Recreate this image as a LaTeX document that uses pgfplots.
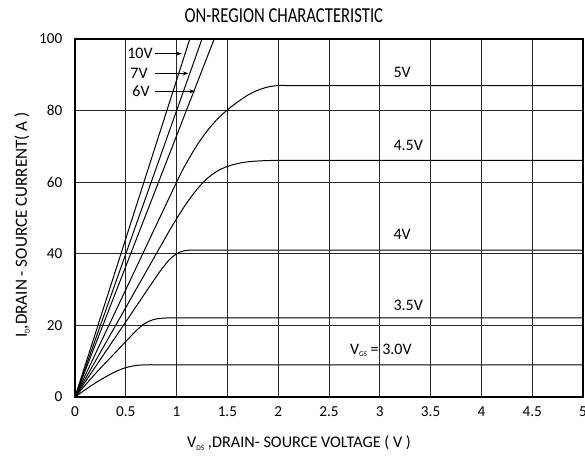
\documentclass[border=0pt]{standalone}
\usepackage{pgfplots}
\pgfplotsset{compat=1.18}
\usepackage{fontspec}
\setmainfont{Carlito}
\newfontfamily\titlefont[FakeStretch=0.78]{Carlito}
\usetikzlibrary{arrows.meta}

\newcommand{\lbl}{\fontsize{12}{14}\selectfont}
\newcommand{\sub}[1]{\raisebox{-0.15em}{\fontsize{5.5}{6}\selectfont #1}}

\pgfplotsset{
  curve/.style={black, line width=0.75pt, mark=none},
  bend/.style={curve, smooth, tension=0.5},
}

\begin{document}
\begin{tikzpicture}
\useasboundingbox (-56.25pt,-44.25pt) rectangle (382.5pt,297.75pt);
\begin{axis}[
  scale only axis,
  width=381pt, height=268.5pt,
  xmin=0, xmax=5, ymin=0, ymax=100,
  xtick={0,0.5,...,5},
  ytick={0,20,...,100},
  grid=major,
  major grid style={black!85, line width=0.7pt},
  major tick length=0pt,
  axis line style={black, line width=0.8pt},
  tick label style={font=\fontsize{11.4}{13}\selectfont},
  /pgf/number format/assume math mode=true,
  xticklabel style={yshift=-3.5pt},
  yticklabel style={xshift=-6pt},
  title={\titlefont ON-REGION CHARACTERISTIC},
  title style={at={(axis description cs:0.411,1)}, anchor=base, yshift=6pt,
    font=\fontsize{16}{18}\selectfont},
  xlabel={V\sub{DS} ,DRAIN- SOURCE VOLTAGE ( V )},
  xlabel style={at={(axis description cs:0.441,0)}, anchor=base, yshift=-38.25pt,
    font=\fontsize{12.2}{14}\selectfont},
  ylabel={I\sub{D},DRAIN - SOURCE CURRENT( A )},
  ylabel style={at={(axis description cs:-0.0945,0.48)}, anchor=base,
    font=\fontsize{12.8}{14}\selectfont},
]
% VGS = 10V, 7V, 6V
\addplot[curve] coordinates {(0,0) (1.13,100)};
\addplot[curve] coordinates {(0,0) (1.25,100)};
\addplot[curve] coordinates {(0,0) (1.37,100)};
% VGS = 5V
\addplot[bend] coordinates {(0,0) (0.5,30) (1.0,60) (1.1,65.5) (1.2,70.3) (1.3,74.3) (1.4,77.6) (1.5,80.2) (1.6,82.4) (1.7,84.3) (1.8,85.7) (1.9,86.6) (2.0,87) (2.1,87) (2.3,87) (3,87) (4,87) (5,87)};
% VGS = 4.5V
\addplot[bend] coordinates {(0,0) (0.45,22.5) (0.9,45) (1.0,49.8) (1.1,54.2) (1.2,58) (1.3,61) (1.4,63.1) (1.5,64.4) (1.6,65.2) (1.7,65.7) (1.85,66) (2.0,66.1) (2.1,66.1) (2.3,66.1) (3,66.1) (4,66.1) (5,66.1)};
% VGS = 4V
\addplot[bend] coordinates {(0,0) (0.4,16.8) (0.8,33.6) (0.87,36.3) (0.92,38.1) (0.97,39.4) (1.02,40.3) (1.07,40.8) (1.12,41) (1.2,41) (1.35,41) (2,41) (3,41) (4,41) (5,41)};
% VGS = 3.5V
\addplot[bend] coordinates {(0,0) (0.2,6.5) (0.4,12.5) (0.55,17) (0.62,19.0) (0.68,20.4) (0.74,21.3) (0.8,21.8) (0.88,22.05) (0.95,22.1) (1.05,22.1) (1.2,22.1) (2,22.1) (3,22.1) (4,22.1) (5,22.1)};
% VGS = 3V
\addplot[bend] coordinates {(0,0) (0.1,2.0) (0.2,3.9) (0.3,5.6) (0.4,7.1) (0.5,8.2) (0.6,8.8) (0.7,9.0) (0.8,9.0) (0.95,9.0) (1.5,9.0) (2.5,9.0) (3.5,9.0) (5,9.0)};

\node[font=\lbl] at (axis cs:0.64,95.9) {10V};
\node[font=\lbl] at (axis cs:0.63,90.4) {7V};
\node[font=\lbl] at (axis cs:0.65,85.4) {6V};
\draw[line width=0.6pt, -{Stealth[length=4pt,width=3pt]}] (axis cs:0.79,95.9) -- (axis cs:1.05,95.9);
\draw[line width=0.6pt, -{Stealth[length=4pt,width=3pt]}] (axis cs:0.79,90.4) -- (axis cs:1.115,90.4);
\draw[line width=0.6pt, -{Stealth[length=4pt,width=3pt]}] (axis cs:0.79,85.4) -- (axis cs:1.18,85.4);

\node[font=\lbl] at (axis cs:3.22,90.6) {5V};
\node[font=\lbl] at (axis cs:3.28,70.3) {4.5V};
\node[font=\lbl] at (axis cs:3.22,45.4) {4V};
\node[font=\lbl] at (axis cs:3.28,25.5) {3.5V};
\node[font=\lbl] at (axis cs:3.01,13.1) {V\sub{GS} = 3.0V};
\end{axis}
\end{tikzpicture}
\end{document}
